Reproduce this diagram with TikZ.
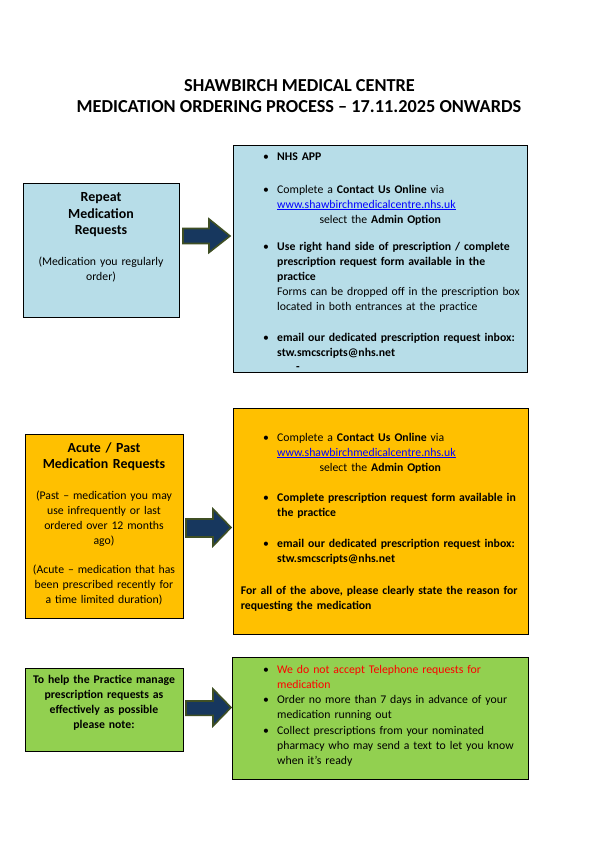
\documentclass[tikz,border=0pt]{standalone}
\usepackage{fontspec}
\setmainfont{Carlito}
\definecolor{medblue}{HTML}{B7DDE8}
\definecolor{medorange}{HTML}{FFC000}
\definecolor{medgreen}{HTML}{92D050}
\definecolor{arrowfill}{HTML}{17375E}
\definecolor{arrowline}{HTML}{3F4F24}
\definecolor{linkblue}{HTML}{0000FF}
\definecolor{warnred}{HTML}{FF0000}
\newcommand{\bul}{\llap{\textbullet\hspace{8.3pt}}}
\newcommand{\weblink}[1]{\textcolor{linkblue}{\underline{#1}}}
\begin{document}
\begin{tikzpicture}[x=1pt,y=-1pt,
  box/.style={draw=black, line width=0.9pt, inner sep=0pt, anchor=north west},
  titletxt/.style={inner sep=0pt, anchor=base, font=\bfseries\fontsize{18.3}{21}\selectfont},
  headtxt/.style={inner sep=0pt, anchor=base, text width=150pt, align=center, font=\bfseries\fontsize{13.9}{16.5}\selectfont},
  ctxt/.style={inner sep=0pt, anchor=base, text width=152pt, align=center, font=\fontsize{11.75}{15}\selectfont},
  btxt/.style={inner sep=0pt, anchor=base west, text width=285pt, align=left, font=\fontsize{11.75}{15}\selectfont},
  barrow/.style={fill=arrowfill, draw=arrowline, line width=1.6pt, line join=miter}]
\path[use as bounding box, fill=white] (0,0) rectangle (596,847);

% title
\node[titletxt] (t1) at (299.5,91) {SHAWBIRCH MEDICAL CENTRE};
\node[titletxt] (t2) at (299,112) {MEDICATION ORDERING PROCESS – 17.11.2025 ONWARDS};

% boxes
\node[box, fill=medblue, minimum width=156pt, minimum height=134pt] (b1L) at (23,183) {};
\node[box, fill=medblue, minimum width=294pt, minimum height=227pt] (b1R) at (233,145) {};
\node[box, fill=medorange, minimum width=158pt, minimum height=184pt] (b2L) at (25,434) {};
\node[box, fill=medorange, minimum width=294.5pt, minimum height=226.5pt] (b2R) at (233,407.5) {};
\node[box, fill=medgreen, minimum width=158pt, minimum height=83pt] (b3L) at (25,668) {};
\node[box, fill=medgreen, minimum width=295.5pt, minimum height=122.5pt] (b3R) at (232,656.5) {};

% block arrows
\draw[barrow] (183,228.5) -- (209,228.5) -- (209,219) -- (230,236) -- (209,252.5) -- (209,243.5) -- (183,243.5) -- cycle;
\draw[barrow] (186,519) -- (213,519) -- (213,509) -- (231,527.5) -- (213,546) -- (213,537) -- (186,537) -- cycle;
\draw[barrow] (186,701) -- (213,701) -- (213,689) -- (231,707.5) -- (213,726) -- (213,715.3) -- (186,715.3) -- cycle;

% box 1 left
\node[headtxt] (r1) at (101,201.5) {Repeat\\Medication\\Requests};
\node[ctxt] (r2) at (101,265) {(Medication you regularly\\order)};

% box 1 right
\node[btxt] (i1) at (277,160.5) {\bul\textbf{NHS APP}};
\node[btxt] (i2) at (277,193) {\bul Complete a \textbf{Contact Us Online} via\\\weblink{www.shawbirchmedicalcentre.nhs.uk}\\\hspace*{42.3pt}select the \textbf{Admin Option}};
\node[btxt] (i3) at (277,250.5) {\bul{\bfseries Use right hand side of prescription / complete\\prescription request form available in the\\practice}\\Forms can be dropped off in the prescription box\\located in both entrances at the practice};
\node[btxt] (i4) at (277,341) {\bul{\bfseries email our dedicated prescription request inbox:\\stw.smcscripts@nhs.net}};
\node[btxt] (i5) at (296,370) {\textbf{-}};

% box 2 left
\node[headtxt] (a1) at (104,452) {Acute / Past\\Medication Requests};
\node[ctxt] (a2) at (104,499.5) {(Past – medication you may\\use infrequently or last\\ordered over 12 months\\ago)};
\node[ctxt] (a3) at (104,573.5) {(Acute – medication that has\\been prescribed recently for\\a time limited duration)};

% box 2 right
\node[btxt] (j1) at (277,441) {\bul Complete a \textbf{Contact Us Online} via\\\weblink{www.shawbirchmedicalcentre.nhs.uk}\\\hspace*{42.3pt}select the \textbf{Admin Option}};
\node[btxt] (j2) at (277,501) {\bul{\bfseries Complete prescription request form available in\\the practice}};
\node[btxt] (j3) at (277,547) {\bul{\bfseries email our dedicated prescription request inbox:\\stw.smcscripts@nhs.net}};
\node[btxt] (j4) at (240.7,594) {{\bfseries For all of the above, please clearly state the reason for\\requesting the medication}};

% box 3 left
\node[ctxt, font=\bfseries\fontsize{11.75}{15}\selectfont] (h1) at (104,683.5) {To help the Practice manage\\prescription requests as\\effectively as possible\\please note:};

% box 3 right
\node[btxt] (k1) at (277,673.5) {\bul{\color{warnred}We do not accept Telephone requests for\\medication}};
\node[btxt] (k2) at (277,703.5) {\bul Order no more than 7 days in advance of your\\medication running out};
\node[btxt] (k3) at (277,734.5) {\bul Collect prescriptions from your nominated\\pharmacy who may send a text to let you know\\when it’s ready};
\end{tikzpicture}
\end{document}
